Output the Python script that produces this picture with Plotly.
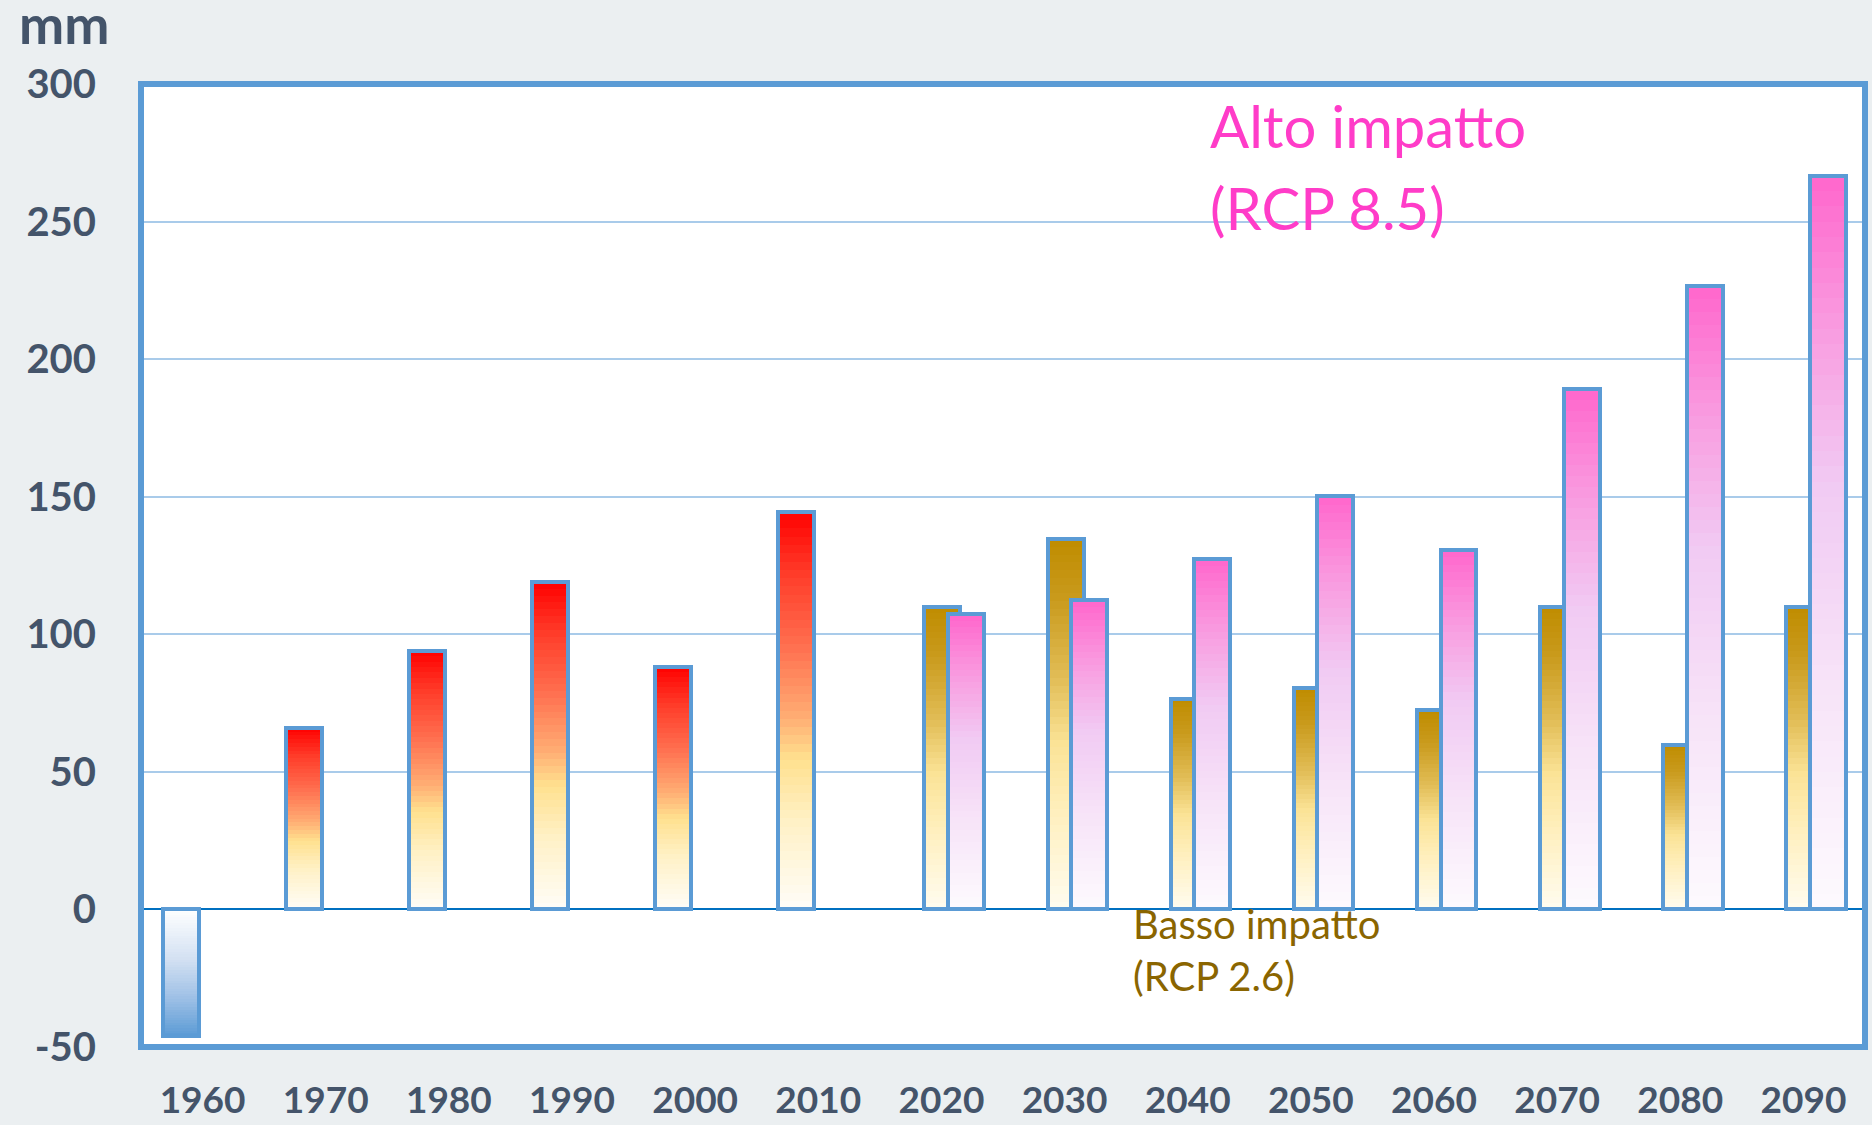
import plotly.graph_objects as go

# ---------------- data ----------------
years = ["1960", "1970", "1980", "1990", "2000", "2010", "2020",
         "2030", "2040", "2050", "2060", "2070", "2080", "2090"]
storico = [-46, 66, 94, 119, 88, 144.5, None, None, None, None, None, None, None, None]
basso = [None, None, None, None, None, None, 110, 134.6, 76.6, 80.5, 72.4, 110, 59.9, 110]
alto = [None, None, None, None, None, None, 107.2, 112.4, 127.5, 150.3, 130.7, 189.1, 226.6, 266.6]
y_ticks = [-50, 0, 50, 100, 150, 200, 250, 300]
y_ticktext = ["-50", "0", "50", "100", "150", "200", "250", "300"]
unit_label = "mm"
label_alto_1 = "Alto impatto"
label_alto_2 = "(RCP 8.5)"
label_basso = "Basso impatto<br>(RCP 2.6)"

# ---------------- styles ----------------
RED_STOPS = [(0.0, "#FFFDF8"), (0.22, "#FFF1C6"), (0.38, "#FFE08E"), (0.48, "#FFAE74"),
             (0.66, "#FF7050"), (0.85, "#FF3A28"), (1.0, "#FF0000")]
BLUE_STOPS = [(0.0, "#FFFFFF"), (0.4, "#D2E0F2"), (0.7, "#9EC0E6"), (1.0, "#5B9BD5")]
GOLD_STOPS = [(0.0, "#FFFCF0"), (0.25, "#FFF0C0"), (0.45, "#FBE396"), (0.62, "#E2BE58"),
              (0.84, "#C99A1C"), (1.0, "#BF8C00")]
PINK_STOPS = [(0.0, "#FDFAFE"), (0.3, "#F7E4F8"), (0.58, "#F1CAF3"), (0.8, "#F99ADF"),
              (1.0, "#FF66CC")]
OUTLINE = "#5B9BD5"
TXT = "#44546A"
BG = "#EBEFF1"
N_SEG = 48
BAR_W = 0.292
OFF_STORICO = -0.179 - BAR_W / 2
OFF_BASSO = 0.008 - BAR_W / 2
OFF_ALTO = 0.199 - BAR_W / 2


def hex2rgb(h):
    h = h.lstrip("#")
    return tuple(int(h[i:i + 2], 16) for i in (0, 2, 4))


def interp(stops, f):
    for (f0, c0), (f1, c1) in zip(stops[:-1], stops[1:]):
        if f0 <= f <= f1:
            t = (f - f0) / (f1 - f0) if f1 > f0 else 0
            a, b = hex2rgb(c0), hex2rgb(c1)
            r = [round(a[i] + (b[i] - a[i]) * t) for i in range(3)]
            return f"rgb({r[0]},{r[1]},{r[2]})"
    return stops[-1][1]


fig = go.Figure()


def add_series(vals, offset, stops_pos, stops_neg=None):
    for k in range(N_SEG):
        frac = (N_SEG - k) / N_SEG
        fcol = (N_SEG - k - 0.5) / N_SEG
        ys = [None if v is None else v * frac for v in vals]
        cols = []
        for v in vals:
            st = stops_neg if (v is not None and v < 0 and stops_neg) else stops_pos
            cols.append(interp(st, fcol))
        fig.add_trace(go.Bar(x=years, y=ys, offset=offset, width=BAR_W,
                             marker=dict(color=cols, line=dict(width=0)),
                             hoverinfo="skip", showlegend=False))
    fig.add_trace(go.Bar(x=years, y=vals, offset=offset, width=BAR_W,
                         marker=dict(color="rgba(0,0,0,0)", line=dict(color=OUTLINE, width=4)),
                         showlegend=False))


add_series(storico, OFF_STORICO, RED_STOPS, BLUE_STOPS)
add_series(basso, OFF_BASSO, GOLD_STOPS)
add_series(alto, OFF_ALTO, PINK_STOPS)

fig.update_layout(
    width=1872, height=1125,
    margin=dict(l=141, r=7, t=84, b=78),
    paper_bgcolor=BG, plot_bgcolor="white",
    barmode="overlay", bargap=0,
    showlegend=False,
    font=dict(family="Lato", color=TXT),
)
fig.update_xaxes(type="category", categoryorder="array", categoryarray=years,
                 range=[-0.5, len(years) - 0.5], showgrid=False, showline=False,
                 automargin=False,
                 ticks="outside", ticklen=21, tickcolor="rgba(0,0,0,0)",
                 tickfont=dict(family="Lato", size=37, color=TXT, weight="bold"))
fig.update_yaxes(range=[-50, 300], tickvals=y_ticks, ticktext=y_ticktext,
                 showgrid=True, gridcolor="#A9CBEA", gridwidth=2,
                 zeroline=True, zerolinecolor="#0070C0", zerolinewidth=2,
                 automargin=False,
                 showline=False, ticks="outside", ticklen=36, tickcolor="rgba(0,0,0,0)",
                 tickfont=dict(family="Lato", size=40, color=TXT, weight="bold"))

fig.add_shape(type="rect", xref="paper", yref="paper", x0=0, x1=1, y0=0, y1=1,
              line=dict(color=OUTLINE, width=6), layer="above")

fig.add_annotation(text=unit_label, xref="paper", yref="paper", x=-0.072, y=1.099,
                   xanchor="left", yanchor="top", showarrow=False,
                   font=dict(family="Lato", size=54, color=TXT, weight="bold"))
fig.add_annotation(text=label_alto_1, xref="paper", yref="paper", x=0.619, y=0.995,
                   xanchor="left", yanchor="top", align="left", showarrow=False,
                   font=dict(family="Lato", size=58, color="#FF3CC8"))
fig.add_annotation(text=label_alto_2, xref="paper", yref="paper", x=0.619, y=0.910,
                   xanchor="left", yanchor="top", align="left", showarrow=False,
                   font=dict(family="Lato", size=58, color="#FF3CC8"))
fig.add_annotation(text=label_basso, xref="paper", yref="paper", x=0.574, y=0.155,
                   xanchor="left", yanchor="top", align="left", showarrow=False,
                   font=dict(family="Lato", size=40, color="#8A6500"))

fig.write_html("out.html", config={"displayModeBar": False},
               post_script="document.body.style.margin='0';document.body.style.overflow='hidden';")
